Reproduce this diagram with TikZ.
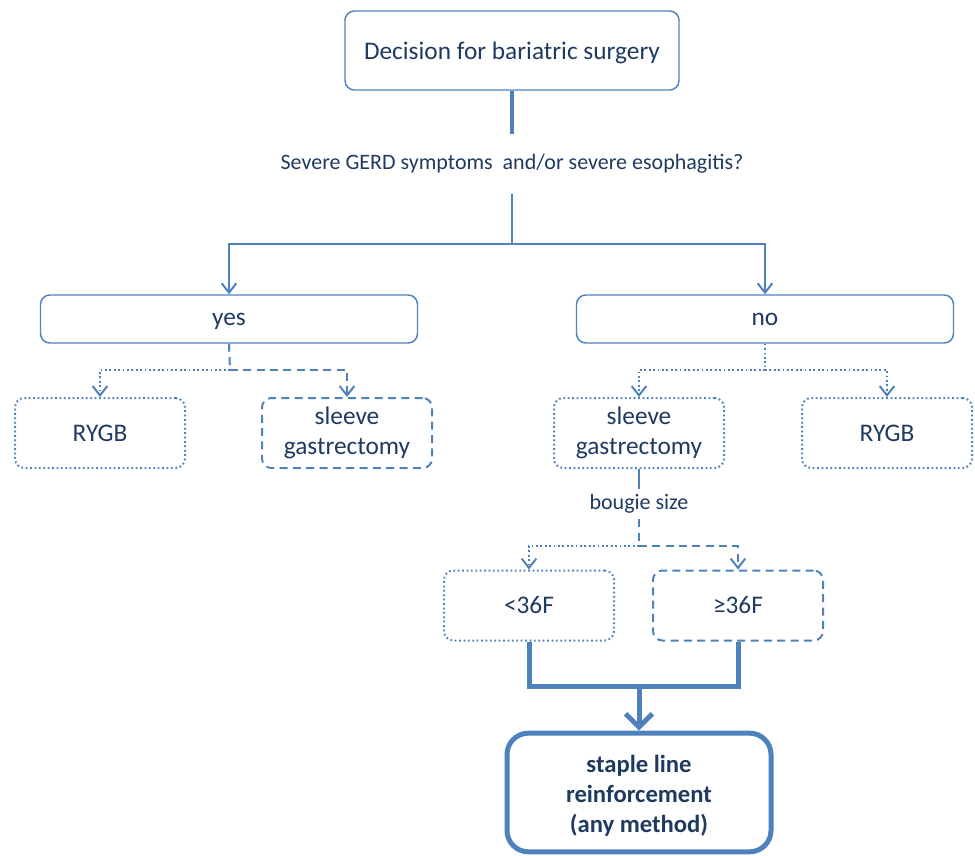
\documentclass[tikz,border=0pt]{standalone}
\usepackage{fontspec}
\setmainfont{Carlito}
\usetikzlibrary{arrows.meta}

\definecolor{boxblue}{HTML}{4F81BD}
\definecolor{txtblue}{HTML}{1F3A60}

\tikzset{
    box/.style={draw=boxblue, line width=1.1pt, rounded corners=7pt, text=txtblue,
        align=center, inner sep=0pt, font=\fontsize{19}{23}\selectfont},
    widebox/.style={box, minimum width=282.75pt, minimum height=36pt, text depth=0pt},
    smallbox/.style={box, minimum width=127.5pt, minimum height=52.5pt},
    label/.style={text=txtblue, inner sep=0pt, font=\fontsize{16.5}{20}\selectfont},
    dotline/.style={draw=boxblue, line width=1.5pt, dash pattern=on 1.3pt off 2pt},
    dashline/.style={draw=boxblue, line width=1.5pt, dash pattern=on 6pt off 4pt},
    tip/.style={-{Straight Barb[length=7pt,width=11pt,line width=1.5pt]}},
}

\begin{document}
\begin{tikzpicture}[x=0.75pt,y=-0.75pt]
    \useasboundingbox (0,0) rectangle (975,856);

    %% Decision and question
    \node[box, minimum width=250.5pt, minimum height=59.25pt, text depth=0pt] (decision) at (512,50.5)
        {Decision for bariatric surgery};
    \node[label, minimum height=45pt] (question) at (512,164)
        {Severe GERD symptoms\ \ and/or severe esophagitis?};
    \coordinate (split) at (512,244);

    % yes / no
    \node[widebox] (yes) at (229,319) {yes};
    \node[widebox] (no) at (765,319) {no};

    \draw[boxblue, line width=2.4pt] (decision.south) -- (question.north);
    \draw[boxblue, line width=1.6pt] (question.south) -- (split);
    \draw[boxblue, line width=1.6pt, tip] (split) -| (yes.north);
    \draw[boxblue, line width=1.6pt, tip] (split) -| (no.north);

    %% Procedures
    \node[smallbox, dotline] (yrygb) at (100,433) {RYGB};
    \node[smallbox, dashline] (ysleeve) at (347,433) {sleeve\\gastrectomy};
    \node[smallbox, dotline] (nsleeve) at (639,433) {sleeve\\gastrectomy};
    \node[smallbox, dotline] (nrygb) at (887,433) {RYGB};

    \coordinate (yfork) at (230,370);
    \coordinate (nfork) at (765,370);
    \draw[dashline] (yes.south) -- (yfork);
    \draw[dotline, tip] (yfork) -| (yrygb.north);
    \draw[dashline, tip] (yfork) -| (ysleeve.north);
    \draw[dotline] (no.south) -- (nfork);
    \draw[dotline, tip] (nfork) -| (nsleeve.north);
    \draw[dotline, tip] (nfork) -| (nrygb.north);

    %% Bougie size
    \node[label, minimum height=22.5pt] (bougie) at (639,504) {bougie size};
    \node[smallbox, dotline] (small) at (529,605.5) {<36F};
    \node[smallbox, dashline] (large) at (738,605.5) {≥36F};
    \coordinate (bfork) at (639,546);

    \draw[boxblue, line width=1.6pt] (nsleeve.south) -- (bougie.north);
    \draw[dashline] (bougie.south) -- (bfork);
    \draw[dotline, tip] (bfork) -| (small.north);
    \draw[dashline, tip] (bfork) -| (large.north);

    %% Reinforcement
    \node[box, line width=3.75pt, rounded corners=16pt, minimum width=198pt, minimum height=89pt,
        font=\fontsize{18.5}{22.5}\selectfont\bfseries] (final) at (639,792.5)
        {\rule{0pt}{18.5pt}staple line\\reinforcement\\(any method)};
    \coordinate (merge) at (639,686);
    \draw[boxblue, line width=3.75pt] (small.south) |- (merge) -| (large.south);
    \draw[boxblue, line width=3.75pt, -{Straight Barb[length=10pt,width=20pt]}] (merge) -- (final.north);
\end{tikzpicture}
\end{document}
